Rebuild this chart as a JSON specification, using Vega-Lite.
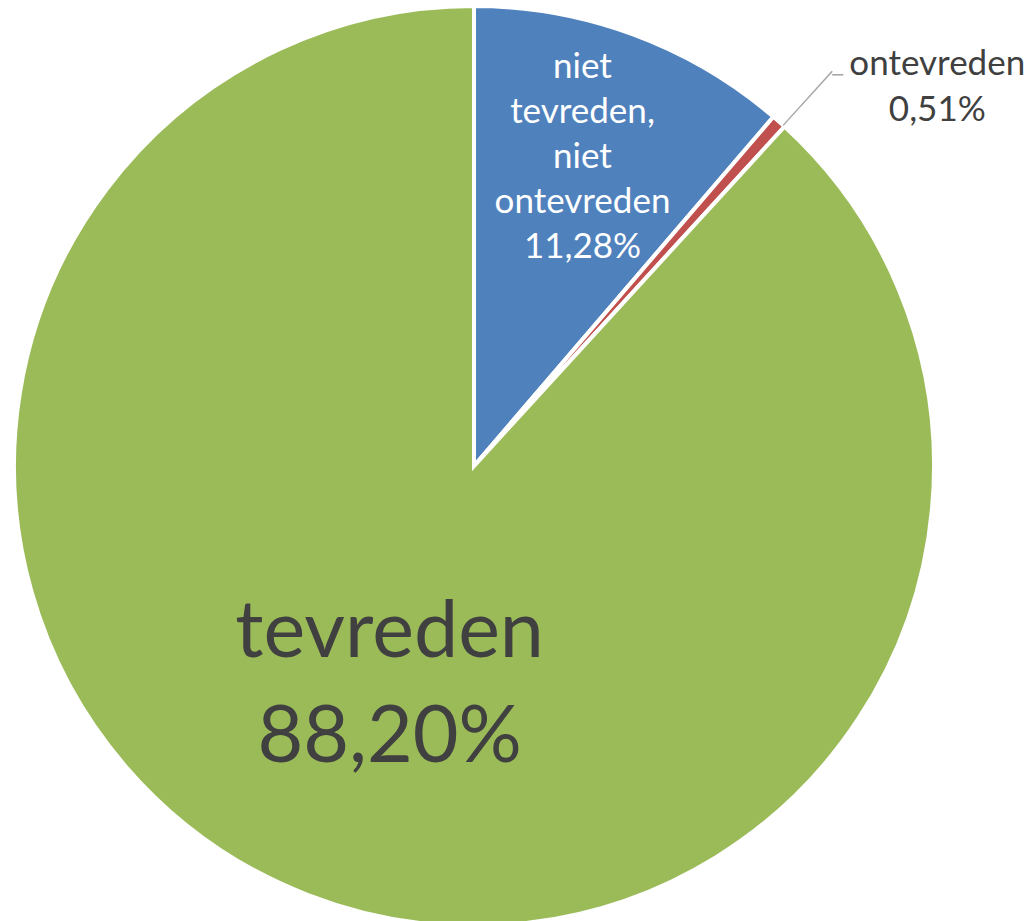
{
  "$schema": "https://vega.github.io/schema/vega-lite/v6.json",
  "width": 948,
  "height": 910,
  "autosize": {"type": "none"},
  "padding": {"left": 0, "top": 11, "right": 81, "bottom": 0},
  "background": "white",
  "config": {"view": {"stroke": null}},
  "data": {
    "values": [
      {"cat": "niet tevreden, niet ontevreden", "pct": 11.28, "label": "niet\ntevreden,\nniet\nontevreden\n11,28%"},
      {"cat": "ontevreden", "pct": 0.51, "label": "ontevreden\n0,51%"},
      {"cat": "tevreden", "pct": 88.20, "label": "tevreden\n88,20%"}
    ]
  },
  "layer": [
    {
      "mark": {"type": "arc", "radius": 460, "stroke": "white", "strokeWidth": 4},
      "encoding": {
        "theta": {"field": "pct", "type": "quantitative", "stack": true},
        "order": {"field": "cat", "type": "ordinal", "sort": "ascending"},
        "color": {
          "field": "cat", "type": "nominal", "legend": null,
          "scale": {"domain": ["niet tevreden, niet ontevreden", "ontevreden", "tevreden"], "range": ["#4F81BD", "#C0504D", "#9BBB59"]}
        }
      }
    },
    {
      "transform": [{"filter": "datum.cat === 'ontevreden'"}],
      "mark": {"type": "arc", "theta": 0.7355, "theta2": 0.7385, "radius": 533, "radius2": 460, "fill": "#A6A6A6"},
      "encoding": {}
    },
    {
      "mark": {"type": "text", "radius": 327, "dx": -5, "dy": -92, "lineBreak": "\n", "lineHeight": 45, "font": "Lato", "fontSize": 35, "align": "center", "baseline": "middle", "color": "white"},
      "encoding": {
        "theta": {"field": "pct", "type": "quantitative", "stack": true},
        "order": {"field": "cat", "type": "ordinal", "sort": "ascending"},
        "detail": {"field": "cat", "type": "nominal"},
        "text": {"condition": {"test": "datum.cat === 'niet tevreden, niet ontevreden'", "field": "label", "type": "nominal"}, "value": ""}
      }
    },
    {
      "mark": {"type": "text", "radius": 560, "dx": 92, "dy": 17, "lineBreak": "\n", "lineHeight": 46, "font": "Lato", "fontSize": 35, "align": "center", "baseline": "middle", "color": "#404040"},
      "encoding": {
        "theta": {"field": "pct", "type": "quantitative", "stack": true},
        "order": {"field": "cat", "type": "ordinal", "sort": "ascending"},
        "detail": {"field": "cat", "type": "nominal"},
        "text": {"condition": {"test": "datum.cat === 'ontevreden'", "field": "label", "type": "nominal"}, "value": ""}
      }
    },
    {
      "mark": {"type": "text", "radius": 560, "dx": -7.5, "dy": 29, "font": "DejaVu Sans Mono", "fontSize": 18, "align": "center", "baseline": "middle", "color": "#A6A6A6"},
      "encoding": {
        "theta": {"field": "pct", "type": "quantitative", "stack": true},
        "order": {"field": "cat", "type": "ordinal", "sort": "ascending"},
        "detail": {"field": "cat", "type": "nominal"},
        "text": {"condition": {"test": "datum.cat === 'ontevreden'", "value": "─"}, "value": ""}
      }
    },
    {
      "mark": {"type": "text", "radius": 233, "dy": -50, "lineBreak": "\n", "lineHeight": 105, "font": "Lato", "fontSize": 79, "align": "center", "baseline": "middle", "color": "#404040"},
      "encoding": {
        "theta": {"field": "pct", "type": "quantitative", "stack": true},
        "order": {"field": "cat", "type": "ordinal", "sort": "ascending"},
        "detail": {"field": "cat", "type": "nominal"},
        "text": {"condition": {"test": "datum.cat === 'tevreden'", "field": "label", "type": "nominal"}, "value": ""}
      }
    }
  ]
}
